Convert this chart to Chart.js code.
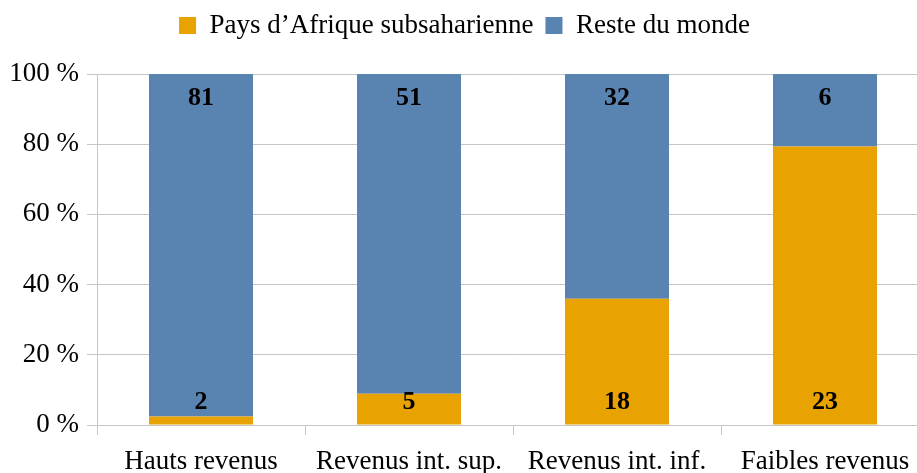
<!DOCTYPE html>
<html>
<head>
<meta charset="utf-8">
<script src="https://cdn.jsdelivr.net/npm/chart.js@4"></script>
<style>
  html, body { margin: 0; padding: 0; background: #fff; overflow: hidden; }
  #wrap { position: relative; width: 929px; height: 473px; }
</style>
</head>
<body>
<div id="wrap"><canvas id="chart"></canvas></div>
<script>
"use strict";

const categories = ["Hauts revenus", "Revenus int. sup.", "Revenus int. inf.", "Faibles revenus"];
const afriqueCounts = [2, 5, 18, 23];
const resteCounts = [81, 51, 32, 6];
const yTicks = [0, 20, 40, 60, 80, 100];

// share of each group in the stack (100 % stacked)
const totals = categories.map((c, i) => afriqueCounts[i] + resteCounts[i]);
const afriqueShare = afriqueCounts.map((v, i) => v / totals[i] * 100);
const resteShare = resteCounts.map((v, i) => v / totals[i] * 100);

const FONT = "'Liberation Serif', 'Times New Roman', serif";

// draw the counts inside the bars: bottom for the first series, top for the second
const countLabels = {
    id: "countLabels",
    afterDatasetsDraw(chart) {
        const ctx = chart.ctx;
        ctx.save();
        ctx.font = "bold 26px " + FONT;
        ctx.fillStyle = "#000";
        ctx.textAlign = "center";
        ctx.textBaseline = "middle";
        chart.data.datasets.forEach((ds, di) => {
            const meta = chart.getDatasetMeta(di);
            meta.data.forEach((bar, i) => {
                const n = ds.counts[i];
                if (di === 0) {
                    ctx.fillText(n, bar.x, bar.base - 22);
                } else {
                    ctx.fillText(n, bar.x, bar.y + 24);
                }
            });
        });
        ctx.restore();
    }
};

// the legend sits higher than chart.js puts it, leave a fixed gap under it
const legendGap = {
    id: "legendGap",
    beforeInit(chart) {
        const fit = chart.legend.fit;
        chart.legend.fit = function() {
            fit.bind(chart.legend)();
            this.height = 74;
        };
    }
};

let chartHtml = document.getElementById("chart");
let chart = new Chart(chartHtml, {
    type: "bar",
    data: {
        labels: categories,
        datasets: [{
            label: "Pays d\u2019Afrique subsaharienne",
            data: afriqueShare,
            counts: afriqueCounts,
            backgroundColor: "#e8a202"
        }, {
            label: "Reste du monde",
            data: resteShare,
            counts: resteCounts,
            backgroundColor: "#5983b0"
        }]
    },
    options: {
        responsive: true,
        maintainAspectRatio: false,
        animation: false,
        devicePixelRatio: 1,
        categoryPercentage: 1,
        barPercentage: 0.5,
        layout: { padding: { left: 0, right: 0, top: 0, bottom: 0 } },
        plugins: {
            legend: {
                position: "top",
                labels: {
                    font: { family: FONT, size: 27 },
                    color: "#000",
                    boxWidth: 17,
                    boxHeight: 17,
                    padding: 12
                }
            },
            tooltip: { enabled: false }
        },
        scales: {
            x: {
                stacked: true,
                afterFit(scale) { scale.height = 48; },
                grid: {
                    drawOnChartArea: false,
                    drawTicks: true,
                    tickLength: 10,
                    offset: true,
                    color: "#c6c6c6"
                },
                border: { color: "#c6c6c6" },
                ticks: {
                    font: { family: FONT, size: 27 },
                    color: "#000",
                    padding: 11,
                    maxRotation: 0
                }
            },
            y: {
                stacked: true,
                min: 0,
                max: 100,
                afterFit(scale) { scale.width = 97; },
                afterBuildTicks(scale) { scale.ticks = yTicks.map(v => ({ value: v })); },
                grid: {
                    color: "#c6c6c6",
                    tickLength: 10
                },
                border: { color: "#c6c6c6" },
                ticks: {
                    font: { family: FONT, size: 27 },
                    color: "#000",
                    padding: 8,
                    callback: v => v + " %"
                }
            }
        }
    },
    plugins: [countLabels, legendGap]
});
</script>
</body>
</html>
